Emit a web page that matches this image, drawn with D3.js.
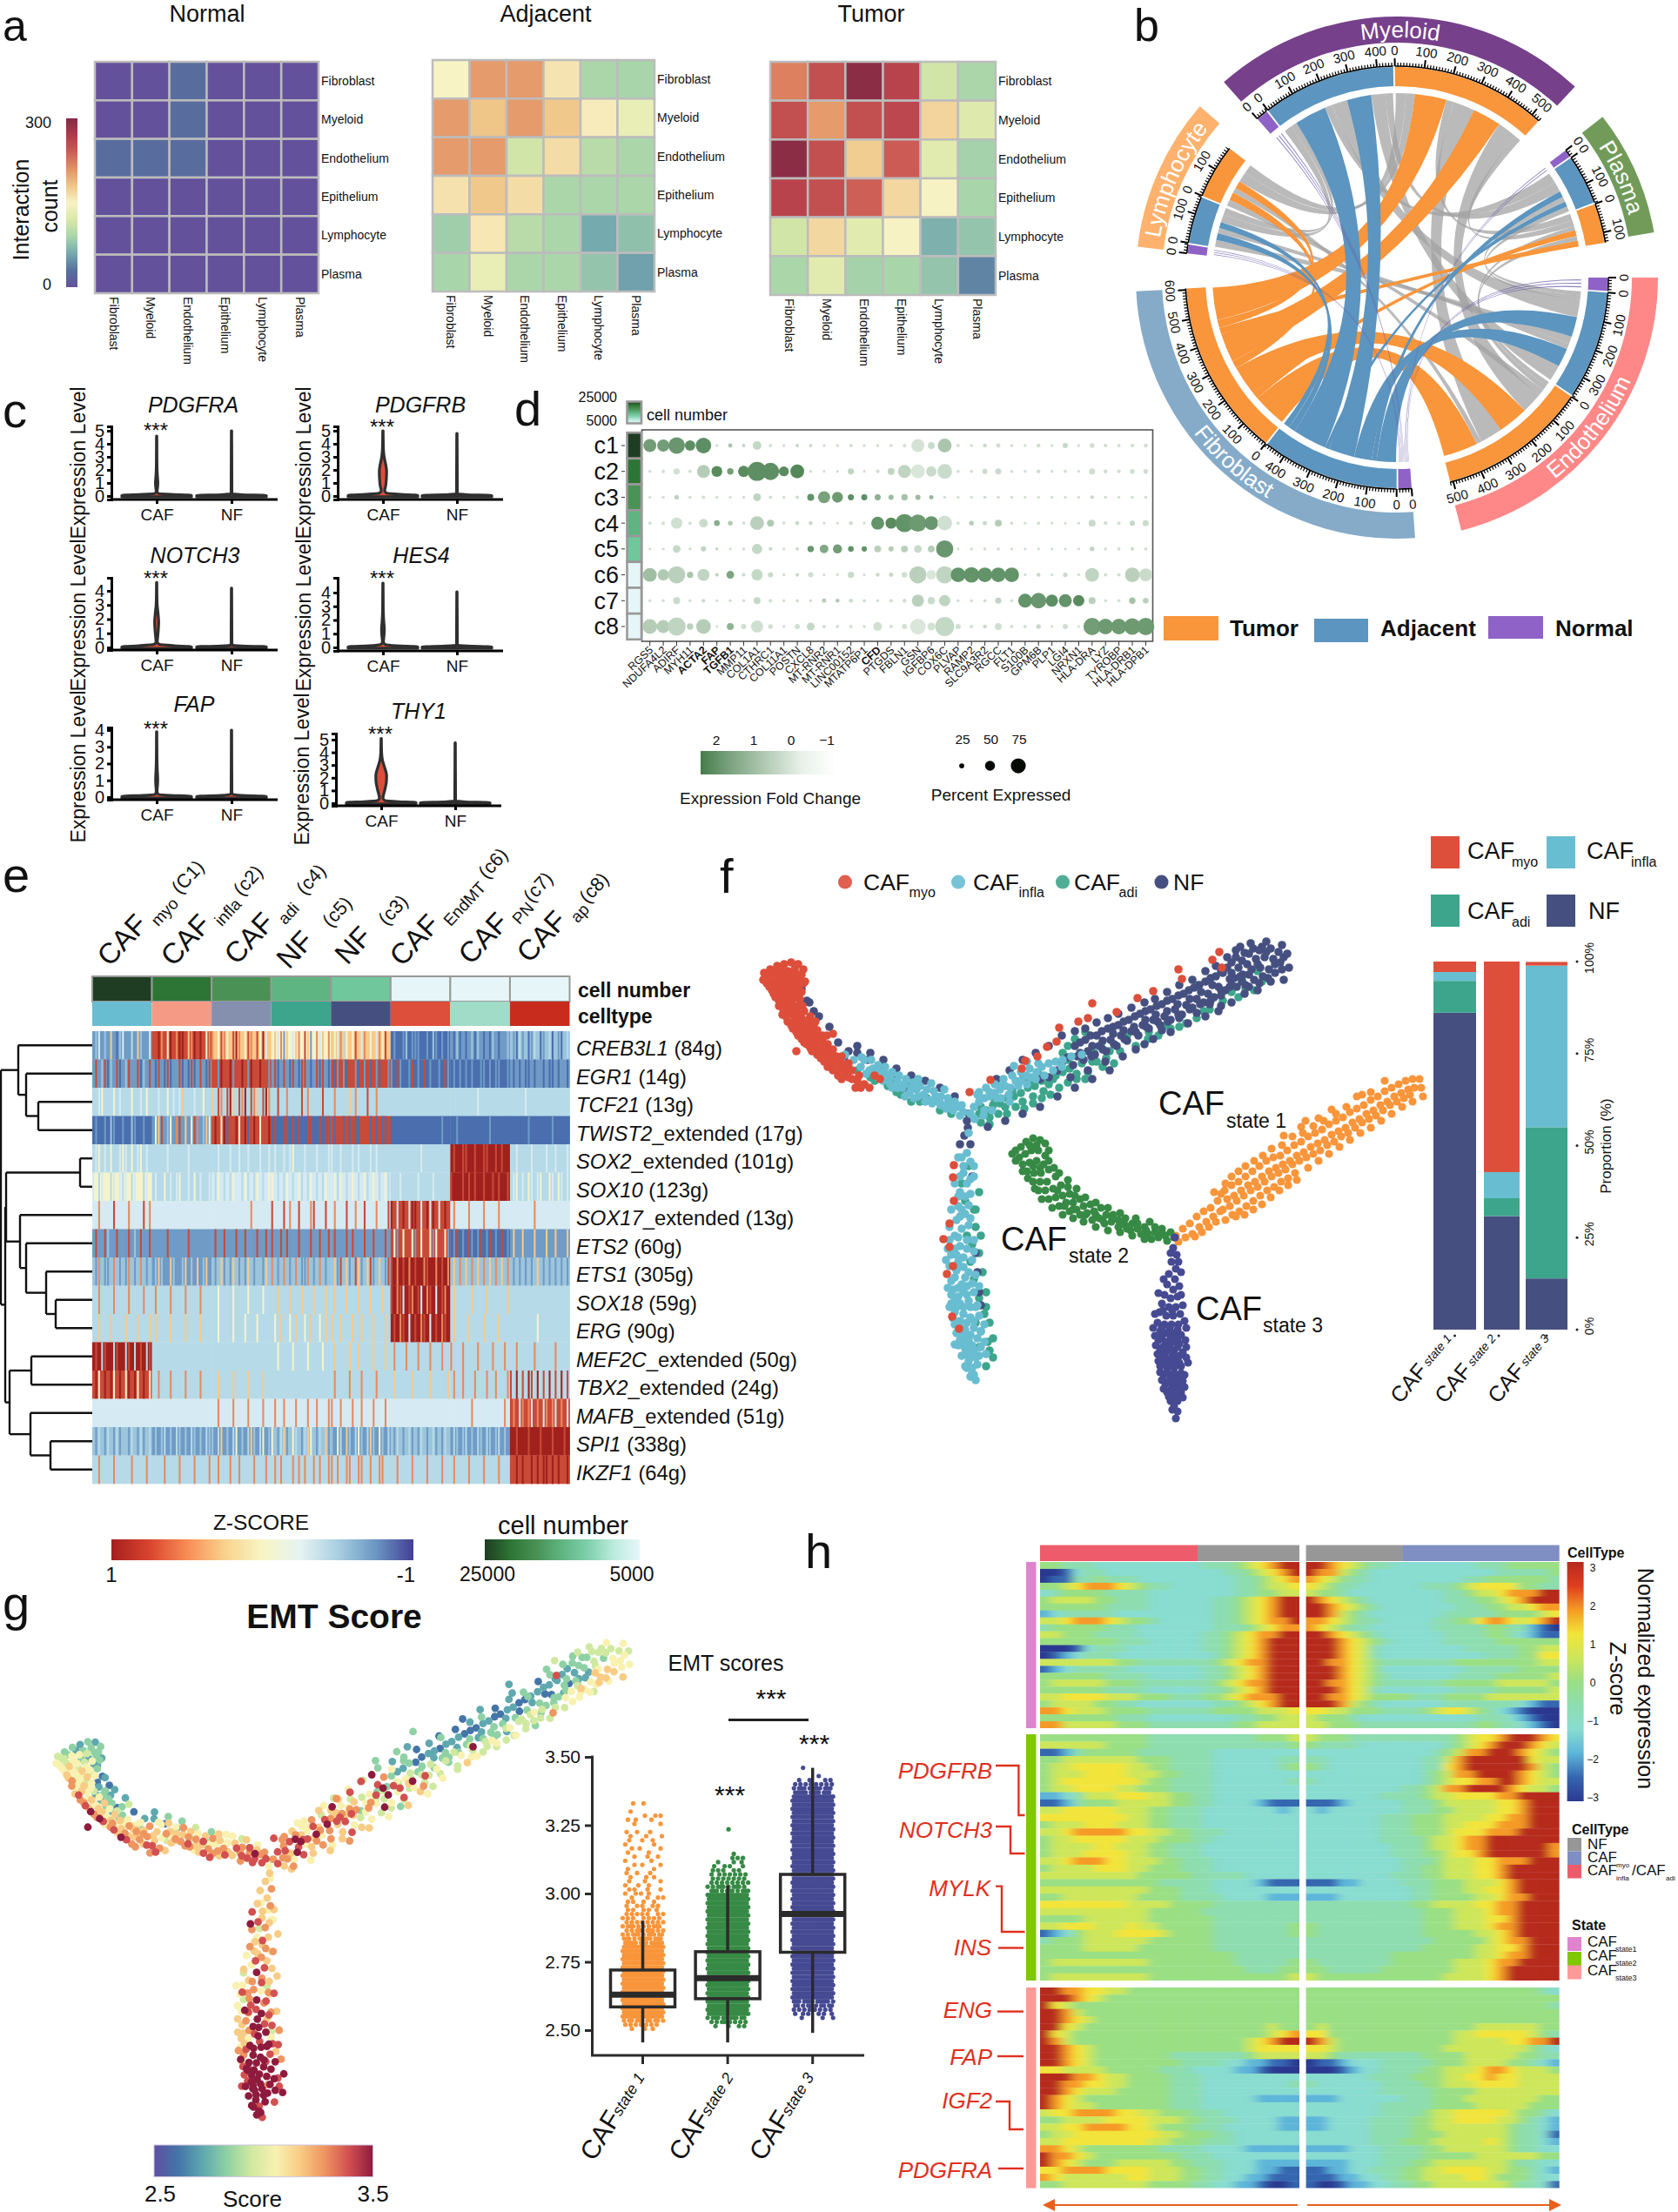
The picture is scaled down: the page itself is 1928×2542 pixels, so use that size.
<!DOCTYPE html>
<html><head><meta charset="utf-8">
<script src="https://cdn.jsdelivr.net/npm/d3@7"></script>
<style>html,body{margin:0;background:#fff}text{font-family:"Liberation Sans",Arial,sans-serif}</style>
</head><body><svg id="c" width="1928" height="2542" xmlns="http://www.w3.org/2000/svg"></svg>
<script>
// ---------- DATA ----------
const cellTypes=['Fibroblast','Myeloid','Endothelium','Epithelium','Lymphocyte','Plasma'];
const normalCounts=[[0,0,25,0,0,0],[0,0,25,0,0,0],[25,25,25,0,0,0],[0,0,0,0,0,0],[0,0,0,0,0,0],[0,0,0,0,0,0]];
const adjacentCounts=[[150,205,205,160,92,90],[205,180,205,178,155,135],[205,205,115,165,100,92],[162,178,165,92,92,92],[85,158,100,92,60,75],[90,135,92,92,78,55]];
const tumorCounts=[[220,250,295,262,115,92],[250,205,250,258,170,125],[295,250,175,240,128,88],[262,250,238,168,148,90],[115,168,128,148,65,78],[92,128,88,90,78,40]];

const chordGroups=[['Myeloid','Normal',40],['Myeloid','Adjacent',455],['Myeloid','Tumor',530],['Plasma','Normal',25],['Plasma','Adjacent',170],['Plasma','Tumor',135],['Endothelium','Normal',45],['Endothelium','Adjacent',370],['Endothelium','Tumor',510],['Fibroblast','Normal',45],['Fibroblast','Adjacent',470],['Fibroblast','Tumor',605],['Lymphocyte','Normal',30],['Lymphocyte','Adjacent',160],['Lymphocyte','Tumor',185]];
const chordLinks={tMF1:['Tumor',125],tMF2:['Tumor',112],tFE1:['Tumor',130],tFE2:['Tumor',115],tFL1:['Tumor',30],tFL2:['Tumor',30],tFP1:['Tumor',25],tFP2:['Tumor',25],
bMF1:['Adjacent',125],bMF2:['Adjacent',95],bFE1:['Adjacent',70],bFE2:['Adjacent',65],bFL1:['Adjacent',25],bFL2:['Adjacent',22],bFP1:['Adjacent',18],bFP2:['Adjacent',15],
gML1:['Other',40],gML2:['Other',35],gMP1:['Other',30],gMP2:['Other',25],gME1:['Other',85],gME2:['Other',78],gLE1:['Other',25],gLE2:['Other',20],gPE1:['Other',17],gPE2:['Other',20],
gAML1:['Other',30],gAML2:['Other',25],gAMP1:['Other',30],gAMP2:['Other',30],gAME1:['Other',60],gAME2:['Other',55],gAEL1:['Other',25],gAEL2:['Other',20],gAEP1:['Other',15],gAEP2:['Other',15],
nFM1:['Normal',1],nFM2:['Normal',1],nFM3:['Normal',1],nFE1:['Normal',1],nFE2:['Normal',1],nFE3:['Normal',1],nFL1:['Normal',1],nFL2:['Normal',1],nFL3:['Normal',1],nFP1:['Normal',1],nFP2:['Normal',1]};
const chordOrder={
'Myeloid|Normal':['nFM1','nFM2','nFM3'],
'Myeloid|Adjacent':['gAML1','gAML2','bMF1','gAMP1','gAME1','bMF2','gAME2','gAMP2'],
'Myeloid|Tumor':['gML1','gML2','tMF1','gMP1','gME1','tMF2','gME2','gMP2'],
'Plasma|Normal':['nFP1','nFP2'],
'Plasma|Adjacent':['gAMP1','gAMP2','bFP1','gAEP1','bFP2','gAEP2'],
'Plasma|Tumor':['gMP1','gMP2','gPE1','tFP1','gPE2','tFP2'],
'Endothelium|Normal':['nFE1','nFE2','nFE3'],
'Endothelium|Adjacent':['gAEP1','gAEP2','gAME1','bFE1','gAEL1','gAEL2','bFE2','gAME2'],
'Endothelium|Tumor':['gPE1','gPE2','gLE1','gME2','tFE2','gME1','gLE2','tFE1'],
'Fibroblast|Normal':['nFP1','nFE1','nFP2','nFE2','nFE3','nFM1','nFM2','nFM3','nFL1','nFL2','nFL3'],
'Fibroblast|Adjacent':['bFE1','bFP1','bFE2','bMF2','bFP2','bMF1','bFL1','bFL2'],
'Fibroblast|Tumor':['tFE1','tFP1','tFE2','tFL1','tMF2','tFP2','tFL2','tMF1'],
'Lymphocyte|Normal':['nFL1','nFL2','nFL3'],
'Lymphocyte|Adjacent':['gAEL1','bFL1','gAEL2','bFL2','gAML1','gAML2'],
'Lymphocyte|Tumor':['gLE1','tFL1','gLE2','tFL2','gML1','gML2']};

const violinGenes=['PDGFRA','PDGFRB','NOTCH3','HES4','FAP','THY1'];
const violinTicks=[5,5,4,4,4,5];
const cafDensity=[
[[-.06,1],[.06,1],[.12,.4],[.2,.05],[.35,.012],[.7,.028],[1,.035],[1.4,.025],[2,.012],[3,.007],[4.6,.005]],
[[-.06,1],[.05,1],[.12,.5],[.22,.1],[.4,.05],[.8,.08],[1.4,.1],[1.9,.105],[2.4,.08],[3,.035],[3.6,.014],[5,.005]],
[[-.06,1],[.05,1],[.12,.5],[.22,.07],[.4,.018],[1,.04],[1.8,.058],[2.4,.04],[3,.016],[3.8,.007],[4.6,.005]],
[[-.06,1],[.05,1],[.12,.4],[.22,.06],[.4,.015],[.9,.032],[1.3,.04],[1.9,.024],[2.8,.009],[4.7,.005]],
[[-.06,1],[.05,1],[.1,.4],[.18,.04],[.35,.012],[.8,.027],[1.1,.03],[1.6,.018],[2.5,.008],[3.9,.005]],
[[-.06,1],[.05,1],[.12,.5],[.22,.1],[.4,.05],[1,.1],[1.7,.15],[2.2,.155],[2.8,.1],[3.4,.035],[4,.012],[5.1,.005]]];
const nfDensity=[[[-.06,1],[.05,1],[.1,.3],[.18,.012],[5,.005]],[[-.06,1],[.05,1],[.1,.3],[.18,.012],[4.8,.005]],[[-.06,1],[.05,1],[.1,.3],[.18,.012],[4.2,.005]],[[-.06,1],[.05,1],[.1,.3],[.18,.012],[4.05,.005]],[[-.06,1],[.05,1],[.1,.3],[.18,.012],[4,.005]],[[-.06,1],[.05,1],[.1,.3],[.18,.012],[4.75,.005]]];

const clusterNames=['c1','c2','c3','c4','c5','c6','c7','c8'];
const clusterCellColors=['#1f3d22','#2d7535','#4a9155','#5fb582','#6fc79b','#e6f6f8','#e6f6f8','#e6f6f8'];
const dotGenes=['RGS5','NDUFA4L2','ADIRF','MYH11','ACTA2','FAP','TGFB1','MMP11','COL1A1','CTHRC1','COL11A1','POSTN','CXCL8','MT-RNR2','MT-RNR1','LINC00152','MTATP6P1','CFD','PTGDS','FBLN1','GSN','IGFBP6','COX6C','PLVAP','RAMP2','SLC9A3R2','RGCC','FLT1','S100B','GPM6B','PLP1','LGI4','NRXN1','HLA-DRA','LYZ','TYROBP','HLA-DRB1','HLA-DPB1'];
const dotBold=['ACTA2','FAP','TGFB1','CFD'];
const dotPct=[
[60,55,80,45,75,2,10,5,35,4,2,5,4,3,3,5,3,3,3,6,60,25,65,4,3,8,10,3,2,8,2,15,2,12,6,4,6,8],
[3,5,20,4,60,48,22,50,95,85,42,65,3,1,1,20,1,6,25,60,65,45,70,3,3,15,20,3,2,8,2,4,1,20,8,6,12,12],
[2,2,12,2,5,2,1,2,30,4,2,5,25,55,48,20,20,20,15,22,15,10,1,2,2,3,3,2,1,2,1,1,1,6,3,2,3,3],
[3,4,50,4,35,18,12,3,65,25,3,8,8,2,1,6,1,60,50,90,85,65,70,3,12,10,25,3,1,4,1,1,1,25,6,4,15,20],
[2,2,30,3,15,3,1,3,45,6,2,5,22,35,38,18,16,25,15,25,30,25,85,2,3,3,4,1,1,2,1,1,2,12,3,4,5,4],
[65,50,85,22,55,6,30,5,50,15,2,6,15,1,2,22,1,8,10,18,85,40,85,70,75,70,70,70,2,8,1,12,2,65,5,5,70,60],
[2,3,25,2,6,1,3,2,25,5,2,4,3,10,8,8,4,2,5,7,55,28,50,2,3,4,20,3,65,75,55,60,50,25,3,3,22,18],
[70,60,90,22,70,1,25,15,55,12,2,15,30,6,4,4,3,35,5,15,75,30,95,15,4,8,25,4,4,12,1,15,1,85,75,75,80,85]];
const dotFold=[
[1.3,1.3,1.5,1.7,1.7,-.5,.2,-.3,-.3,-.5,-.5,-.3,-.4,-.5,-.5,-.5,-.5,-.5,-.5,-.5,-.6,-.4,.2,-.5,-.5,-.4,-.5,-.5,-.5,-.5,-.5,-.3,-.5,-.5,-.5,-.5,-.5,-.5],
[-.5,-.5,-.5,-.5,0,1.8,1.3,1.8,1.7,1.7,1.8,1.9,-.5,-.5,-.5,-.2,-.5,-.5,-.2,-.2,-.7,-.4,-.4,-.5,-.5,-.4,-.4,-.5,-.5,-.5,-.5,-.5,-.5,-.5,-.5,-.5,-.5,-.5],
[-.5,-.5,-.2,-.5,-.5,-.5,-.5,-.5,-.2,-.5,-.5,-.5,1.6,1.2,1.4,1.7,1.7,.8,.5,.3,.5,.6,-.5,-.5,-.5,-.5,-.5,-.5,-.5,-.5,-.5,-.5,-.5,-.3,-.5,-.5,-.5,-.5],
[-.5,-.5,-.5,-.5,-.4,.9,.1,-.5,-.1,.1,-.5,-.4,-.4,-.5,-.5,-.4,-.5,1.6,1.8,1.6,1.4,1.5,-.5,-.5,0,-.4,0,-.5,-.5,-.5,-.5,-.5,-.5,-.4,-.5,-.5,-.3,-.4],
[-.5,-.5,-.3,-.5,-.2,-.3,-.5,-.5,-.3,-.3,-.5,-.4,1.5,1,1.3,1.6,1.6,-.1,0,-.1,-.4,0,1.5,-.5,-.5,-.5,-.5,-.5,-.5,-.5,-.5,-.5,-.5,-.2,-.5,-.5,-.4,-.5],
[.4,.1,-.1,.2,-.2,-.2,1.1,-.4,-.3,-.4,-.5,-.4,-.5,-.5,-.5,-.4,-.5,-.4,-.3,-.5,-.1,-.7,-.2,1.6,1.6,1.6,1.6,1.6,-.5,-.4,-.5,-.4,-.5,-.2,-.5,-.5,-.1,-.4],
[-.5,-.5,-.4,-.5,-.4,-.5,-.5,-.5,-.3,-.5,-.5,-.5,-.5,0,.1,-.4,-.5,-.5,-.5,-.5,-.1,-.4,-.2,-.5,-.5,-.5,-.2,-.5,1.6,1.5,1.7,1.6,1.8,-.1,-.5,-.5,.3,-.1],
[0,0,-.2,-.1,0,-.5,.7,-.5,-.5,-.5,-.5,-.5,-.3,-.5,-.5,-.5,-.5,-.5,-.5,-.6,-.7,-.6,-.3,-.5,-.5,-.4,-.5,-.5,-.5,-.4,-.5,-.5,-.5,1.3,1.4,1.4,1.4,1.4]];

const tfGenes=['CREB3L1','EGR1','TCF21','TWIST2','SOX2','SOX10','SOX17','ETS2','ETS1','SOX18','ERG','MEF2C','TBX2','MAFB','SPI1','IKZF1'];
const tfSuffix=[' (84g)',' (14g)',' (13g)','_extended (17g)','_extended (101g)',' (123g)','_extended (13g)',' (60g)',' (305g)',' (59g)',' (90g)','_extended (50g)','_extended (24g)','_extended (51g)',' (338g)',' (64g)'];
const tfActivity=[
["12412161024113162114","88978598799867989857","76587568976587685946","56471654675861574657","65473565864765647586","01001201110010210101","10201012021010210112","21031201320123021023"],
["18128021801281180218","10810801180108018108","88198891889819889881","18018108108810180810","80181088108180810881","10810018010801001081","01010101001101011001","10101001011010010110"],
[ "33453335343335334353","33433534346333433533","63873896387938763897","33833733338373333833","37333363733383373333","33333333333333333333","33333333343333333333","33333433333333333333"],
["01001021001002100100","15681251781615871265","89859088958908985889","08008808080088008088","80880808008880808008","00000000000000000100","00100000000001000000","00000010000000100000"],
["34534353345435345343","33333433333343333333","33433343343343334334","34334345333433343334","43343334343334343333","33333333334333333333","98998899899889989899","33433334333343343334"],
["45345534543453455345","34335343453343534334","43543435443534354345","54343543453435434354","45354345434534543453","33343333343333433333","89998989899899898998","34534354345335435434"],
["44744448444474444847","44444444444444444444","44444444444447444444","84448474484447844484","47444844744844474448","98489849984894984898","47444474444744447444","44444444744444444444"],
["18118211811181218118","11111811111181111111","18118111811811181181","81181811181118118118","18111818111811811181","85185885185885158851","01801081018018010801","16116111611161161116"],
["21721127212172127212","12621162112612161261","21261216212162122162","72127212721172127212","26182612861268126218","89798979899789979897","26272627262726272627","21212121262121212121"],
["33733337333373333733","37333373333733337333","33533335333353333533","33633363336333633363","36333633363336333633","89784987984978949879","36333336333363333336","33333333333333333333"],
["33633363333633363336","36333363333633336333","33533335333533353333","35363353633536335363","63363336336333633363","98978949897894989789","36333363333633336333","33333333353333333333"],
["98938993899389398938","33333333333333333333","33333333333333333333","33533335333353333533","36333363363333633363","37333733373337333733","73337333373333733373","33733333733333373333"],
["89589895898598958985","33733373333733337333","33633336333363333633","33333333333333333333","37333373337333373333","36333336333336333336","37337333733373373337","83938398393839383938"],
["44444444444444444444","44444444444444444444","44744447444474444744","47447444744474474447","74474447447444744474","44444444444444444444","44444447444444444474","87847874878478748784"],
["21321321312213213123","12123121321213212132","21361213512136213512","52136125321365213261","21531621352136215213","21321231213212312132","13212312132132123121","99899989998999899989"],
["33733337333337333373","33337333373333733337","33733373373333733373","37373337373733737337","73733773377337337733","33733337333373333733","37333373333733337333","88989889898998989889"]];

const trajMyo=[[8,32,4],[14,28,3],[22,24,2],[30,26,3],[38,24,3],[6,40,5],[13,38,4],[20,36,5],[28,35,3],[36,36,2],[44,34,3],[12,48,5],[19,46,5],[26,46,4],[34,46,5],[42,44,2],[16,56,6],[24,56,5],[31,55,5],[39,54,4],[47,66,1],[20,66,7],[27,65,5],[35,64,4],[24,76,6],[31,74,6],[40,72,5],[30,84,7],[38,82,5],[46,80,2],[36,92,8],[44,90,5],[52,88,2],[42,100,9],[50,98,6],[58,96,3],[49,108,7],[57,106,5],[65,104,2],[56,114,8],[64,114,6],[72,112,3],[64,122,7],[72,122,5],[80,120,5],[72,130,6],[80,132,7],[88,128,6],[82,140,8],[90,138,6],[86,124,5],[96,142,7],[104,150,8],[60,88,3],[70,100,1],[56,78,3],[92,150,7],[108,160,7],[239,165,8],[263,151,5],[299,138,9],[303,129,7],[317,124,8],[328,113,8],[339,107,9],[342,91,3],[364,84,3],[375,80,2],[380,63,3],[408,73,1],[432,57,1],[450,49,2],[479,24,2],[483,35,2],[518,13,3],[526,4,4],[529,22,8],[221,249,8],[220,263,9],[221,290,7],[216,316,6],[209,334,5],[216,343,8],[220,365,9],[213,374,6],[219,423,9],[227,437,9],
[3,28,4],[10,24,3],[18,20,3],[26,18,2],[34,16,3],[42,18,2],[48,24,3],[46,30,3],[50,38,2],[2,36,5],[10,32,4],[18,30,5],[26,30,5],[34,30,4],[42,30,3],[9,44,5],[16,42,6],[24,40,5],[32,40,4],[40,40,5],[48,40,3],[14,52,6],[22,50,5],[30,50,6],[38,50,5],[46,50,3],[20,60,7],[28,60,5],[36,58,6],[44,58,5],[25,70,5],[33,68,6],[41,66,5],[49,72,2],[28,78,8],[36,76,5],[44,76,4],[54,82,3],[34,88,7],[42,86,6],[50,84,5],[62,84,2],[40,96,6],[48,94,5],[56,92,6],[64,94,3],[46,104,7],[54,102,6],[62,100,5],[70,104,4],[52,110,9],[60,110,5],[68,108,6],[76,110,3],[58,118,5],[66,118,7],[74,116,6],[82,116,5],[68,126,8],[76,126,6],[84,124,7],[92,124,5],[76,136,9],[84,136,6],[92,132,7],[100,132,6],[88,146,7],[96,136,6],[104,140,7],[112,146,6],[100,148,6],[110,152,8],[118,156,7],[124,160,6],[114,160,8],[130,146,5],[136,150,6],[40,118,9],[75,100,3],[82,98,4]];
const trajNF=[[360,112,3],[363,124,8],[358,134,9],[372,105,2],[375,118,5],[370,128,8],[385,100,1],[388,112,3],[383,122,9],[398,92,2],[401,105,4],[396,118,8],[410,88,1],[413,100,3],[408,112,5],[422,82,2],[425,95,4],[420,106,3],[435,75,1],[438,88,3],[433,100,5],[447,70,1],[450,82,2],[445,92,9],[460,64,2],[463,78,3],[458,88,4],[472,58,1],[475,70,3],[470,82,3],[485,52,2],[488,65,3],[483,76,5],[497,45,1],[500,58,3],[495,68,4],[510,38,2],[513,52,3],[508,62,5],[522,32,2],[525,44,1],[520,56,3],[528,66,7],[535,22,2],[538,35,3],[533,48,3],[545,10,3],[548,22,2],[543,34,1],[546,44,5],[555,5,3],[558,18,3],[553,30,2],[556,42,6],[565,0,4],[568,12,4],[563,24,2],[566,36,5],[575,-2,4],[578,10,3],[573,22,5],[576,32,6],[585,0,4],[588,12,5],[583,24,6],[594,4,4],[596,16,5],[590,28,6],[540,16,2],[530,28,2],[518,42,1],[505,50,2],[492,58,1],[478,64,2],[466,72,3],[453,76,2],[441,82,3],[428,90,2],[416,94,3],[404,98,2],[392,106,3],[380,112,4],[352,125,9],[345,132,8],[340,140,7],[330,148,3],[320,150,8],[55,62,2],[60,72,1],[95,125,3],[110,120,2],[122,128,1],[135,135,2],[150,150,4],[165,160,4],[185,170,6],[205,178,5],[238,190,4],[236,198,5],[237,206,6],[233,215,6],[240,225,7],[242,262,5],[246,350,6],[248,372,7],[250,395,4],[252,410,8],[228,225,6],
[360,95,2],[372,92,3],[385,85,1],[398,80,2],[410,75,3],[425,68,1],[440,62,2],[452,58,3],[466,50,1],[480,42,2],[495,36,3],[510,26,1],[522,20,3],[535,10,3],[550,-2,4],[562,-6,4],[580,-8,5],[598,-4,5],[604,6,4],[606,22,5],[600,36,6],[585,38,5],[570,48,4],[555,52,5],[540,62,4],[525,72,4],[510,78,3],[490,86,5],[470,96,4],[450,104,5],[430,116,4],[415,124,5],[395,130,7],[375,140,8],[355,148,9],[538,44,2],[550,32,3],[560,6,3],[572,2,4],[545,2,3],[528,54,3],[515,64,3],[500,74,4],[480,80,2],[460,94,4],[440,110,6],[140,128,3],[155,138,4],[172,146,3],[188,152,5],[205,160,4],[222,170,5],[110,112,2],[125,120,3],[100,118,2],[88,108,1],[78,90,2],[66,78,2],[52,60,1],[46,46,2],[270,150,5],[285,140,6],[300,128,4],[315,120,5],[330,112,4],[345,100,3],[260,205,6],[280,198,5],[300,190,6],[320,182,7],[340,170,6],[360,160,5],[380,150,6],[400,140,5],
[366,108,2],[378,100,3],[391,95,1],[404,90,2],[416,84,2],[429,78,2],[441,72,1],[454,66,2],[466,60,1],[479,54,2],[491,48,1],[503,42,2],[516,34,2],[528,26,2],[540,28,3],[552,14,3],[560,30,2],[570,18,4],[580,4,4],[590,18,5],[600,10,5],[598,24,5],[366,120,5],[379,124,6],[392,116,4],[405,110,3],[417,104,4],[430,96,3],[442,90,4],[455,84,3],[467,84,3],[479,76,4],[492,70,4],[504,64,4],[516,60,4],[528,48,3],[540,42,3],[552,38,4],[560,44,5],[572,40,5],[582,34,6]];
const trajAdi=[[250,190,7],[258,186,6],[266,180,8],[274,178,5],[282,172,6],[290,170,5],[298,166,7],[306,160,6],[314,158,8],[322,152,6],[330,156,4],[338,146,7],[346,142,5],[354,138,4],[362,150,4],[346,120,8],[352,112,7],[360,104,5],[372,96,3],[385,130,5],[396,126,4],[375,142,4],[390,112,3],[412,118,4],[430,112,4],[444,104,5],[456,100,4],[470,92,5],[488,86,4],[508,72,4],[530,60,4],[548,56,5],[566,48,5],[570,26,6],[552,36,3],[500,42,3],[300,176,7],[280,182,6],[262,194,5],[312,170,6],[324,164,5],[110,140,6],[125,148,4],[140,152,7],[155,165,5],[168,158,3],[182,176,6],[244,300,5],[246,320,6],[242,340,4],[240,360,7],[244,380,6],[250,402,5],[256,420,6],[252,440,5],[262,462,8],[258,480,8],[250,458,7],[246,430,8],[236,330,7],[234,290,6],[230,270,4],[238,250,5],
[130,152,6],[145,158,7],[160,168,6],[172,176,8],[190,172,6],[205,186,7],[218,190,8],[252,200,6],[262,202,7],[272,190,8],[282,190,6],[292,182,7],[302,184,5],[312,178,6],[322,172,8],[332,168,6],[342,160,5],[352,154,4],[362,144,5],[372,150,3],[382,120,4],[392,136,6],[405,132,4],[252,182,8],[268,174,9],[288,164,7],[308,152,8],[252,330,6],[250,350,8],[254,372,6],[258,395,7],[258,412,8],[262,430,7],[266,448,9],[266,470,9],[260,452,8],[246,300,7],[250,280,6],
[300,150,6],[318,144,7],[335,150,5],[352,128,4],[368,132,5],[380,130,4],[400,118,4],[420,100,3],[445,96,4],[465,88,5],[480,90,4],[500,80,4],[515,70,4],[540,50,5],[556,46,5],[575,38,6]];
const trajInfla=[[92,130,6],[100,136,7],[106,128,7],[114,136,6],[120,144,5],[128,138,6],[134,148,7],[142,144,6],[148,156,8],[156,152,7],[162,160,6],[170,166,7],[178,162,5],[186,168,7],[192,174,6],[200,170,8],[206,180,8],[214,178,7],[220,186,8],[226,182,7],[232,188,8],[96,122,5],[118,128,5],[244,182,8],[250,176,7],[256,172,8],[262,170,9],[268,166,6],[274,162,5],[280,158,8],[286,160,6],[292,152,8],[298,152,7],[304,146,6],[310,148,7],[316,142,5],[322,136,6],[330,132,4],[338,130,5],[346,128,3],[356,124,3],[368,122,4],[240,190,7],[256,186,6],[270,172,8],[284,168,9],[238,212,5],[236,235,6],[230,240,5],[240,245,7],[232,258,6],[228,262,8],[236,270,7],[228,280,5],[234,285,8],[226,296,6],[234,305,7],[224,312,5],[230,322,9],[238,318,8],[222,330,6],[228,342,7],[236,345,5],[218,352,4],[226,360,8],[232,366,8],[238,372,9],[222,378,7],[230,386,9],[220,392,6],[226,400,5],[236,398,9],[224,412,8],[232,412,9],[240,412,9],[220,425,6],[228,428,9],[236,430,9],[244,428,9],[224,442,8],[232,444,9],[240,444,9],[226,456,9],[234,456,9],[242,456,9],[230,468,9],[238,468,9],[246,470,9],[234,480,9],[242,482,8],[240,492,9],[246,496,8],[230,300,6],[238,295,7],[222,345,7],[224,370,5],[232,395,8],[218,408,5],[228,435,8],[236,462,9],
[126,128,6],[134,134,5],[142,136,7],[150,142,6],[158,146,5],[166,150,6],[174,154,7],[182,158,6],[190,162,5],[198,164,6],[206,170,7],[214,172,8],[222,176,6],[230,180,7],[124,140,7],[132,142,5],[140,152,6],[148,148,7],[156,160,6],[164,156,8],[172,160,5],[180,170,7],[188,176,8],[196,178,6],[204,176,7],[212,184,8],[220,180,9],[228,192,8],[150,160,7],[165,170,8],[175,172,7],[248,168,7],[258,160,6],[268,156,5],[278,150,7],[288,146,4],[298,142,6],[308,138,5],[318,132,4],[245,196,8],[255,192,7],[265,186,9],[275,172,8],[285,176,7],[295,158,9],[305,156,8],[315,150,6],[325,146,7],[335,140,5],[345,136,4],[226,240,6],[244,262,5],[222,270,7],[240,282,6],[218,300,5],[228,308,8],[240,310,6],[216,320,4],[226,332,7],[236,335,8],[244,335,6],[214,345,5],[224,352,7],[232,355,9],[242,358,8],[216,365,5],[224,368,8],[234,378,9],[242,385,8],[218,382,6],[226,390,7],[236,388,9],[244,395,9],[218,398,6],[228,408,9],[238,405,8],[248,410,9],[222,418,7],[232,420,9],[240,424,9],[250,422,8],[226,435,9],[234,438,9],[244,436,9],[252,440,9],[228,450,8],[238,450,9],[248,448,9],[234,460,9],[244,462,9],[252,458,9],[238,474,9],[248,478,9],[242,488,9],[250,468,9],[236,482,9],[256,452,9],
[216,335,5],[244,348,7],[212,358,5],[246,375,8],[214,390,6],[250,388,8],[216,412,7],[246,412,9],[222,405,6],[222,432,8],[256,432,9],[232,452,9],[222,455,8],[258,466,9],[244,490,9],[232,250,6],[244,250,6],[226,285,6],[240,265,6],[180,150,6],[195,155,5],[210,162,6],[115,125,5],[135,142,6],[250,165,7],[262,165,7],[275,158,5],[290,135,5],[305,130,6]];
const stateOne=[[476,330],[479,337],[484,322],[487,332],[492,316],[495,328],[500,308],[503,320],[498,331],[508,302],[511,314],[506,326],[516,298],[519,308],[514,320],[524,290],[527,302],[522,314],[532,278],[535,288],[530,300],[533,312],[540,272],[543,284],[538,296],[541,306],[548,268],[551,278],[546,290],[549,302],[556,262],[559,272],[554,284],[557,296],[564,256],[567,268],[562,278],[565,290],[572,250],[575,262],[570,274],[573,284],[580,244],[583,256],[578,268],[581,278],[588,240],[591,252],[586,262],[589,274],[596,238],[599,248],[594,258],[597,268],[604,232],[607,244],[602,254],[605,264],[612,226],[615,238],[610,248],[613,258],[620,222],[623,234],[618,244],[628,216],[631,228],[626,240],[636,212],[639,224],[634,236],[644,208],[647,220],[642,232],[652,202],[655,214],[650,226],[660,198],[663,210],[658,222],[668,194],[671,206],[666,216],[676,188],[679,200],[674,212],[684,184],[687,196],[682,206],[692,180],[695,190],[690,200],[700,174],[703,186],[698,196],[708,170],[711,180],[706,192],[716,164],[719,176],[714,186],[724,160],[727,170],[722,180],[732,156],[735,166],[730,176],[740,152],[743,162],[738,172],[748,150],[750,160],[745,168],[600,215],[620,205],[655,185],[684,170],
[540,262],[548,256],[556,250],[566,244],[576,238],[586,230],[598,226],[610,216],[622,212],[634,204],[646,198],[660,190],[672,182],[545,308],[555,306],[565,300],[575,294],[585,286],[595,278],[605,272],[615,266],[628,252],[640,244],[652,236],[664,228],[676,220],[688,212],[700,206],[712,198],[724,190],[736,182],[748,176],[758,160],[760,170],[756,150],[700,165],[716,152],[690,168],[640,195],[625,198],[533,270],[528,282],[520,280]];
const stateTwo=[[292,232],[298,228],[304,222],[312,218],[320,220],[326,224],[296,240],[303,236],[310,232],[318,232],[326,238],[300,248],[308,246],[316,244],[324,248],[305,256],[313,258],[321,258],[330,254],[312,268],[320,268],[328,268],[338,262],[318,278],[326,278],[335,276],[344,272],[352,266],[330,288],[338,286],[346,284],[354,282],[362,276],[342,296],[350,292],[358,292],[366,288],[354,302],[362,300],[370,296],[378,294],[366,306],[374,304],[382,302],[390,298],[380,312],[388,310],[396,306],[404,306],[394,316],[402,314],[410,312],[418,310],[410,320],[418,318],[426,316],[424,324],[432,322],[440,320],[436,328],[444,328],[452,326],[448,334],[456,332],[464,330],[470,326],[466,336],[474,332],
[288,236],[292,244],[300,256],[306,264],[314,276],[322,288],[334,298],[346,306],[358,310],[370,314],[384,320],[398,324],[412,326],[426,330],[440,334],[330,244],[336,252],[342,258],[352,274],[360,284],[372,286],[384,292],[398,298],[412,304],[430,310],[446,314],[460,322],[330,232],[316,226],[308,226],
[340,278],[348,296],[358,300],[372,306],[384,306],[392,312],[402,308],[414,316],[420,322],[432,316],[442,324],[452,320],[460,326],[312,250],[320,252]];
const stateThree=[[475,332],[473,344],[477,352],[471,360],[476,368],[468,374],[475,380],[466,386],[473,392],[480,388],[463,398],[470,402],[478,400],[460,408],[468,412],[476,412],[457,418],[465,422],[473,422],[481,420],[455,430],[463,432],[471,432],[479,432],[458,440],[466,442],[474,442],[482,444],[456,450],[464,452],[472,452],[480,454],[458,460],[466,462],[474,462],[484,464],[460,470],[468,472],[476,472],[458,480],[466,482],[474,482],[482,480],[462,490],[470,492],[478,492],[486,490],[490,476],[464,500],[472,502],[480,502],[466,510],[474,512],[482,510],[470,520],[478,520],[472,530],[476,540],
[470,350],[479,360],[482,372],[462,380],[482,398],[456,396],[461,416],[472,416],[484,410],[452,420],[486,428],[450,436],[460,436],[469,438],[478,438],[488,436],[452,445],[460,446],[470,447],[478,448],[487,450],[453,456],[461,458],[469,458],[478,458],[488,458],[455,466],[463,466],[472,467],[480,468],[456,474],[464,477],[472,478],[480,476],[488,470],[458,487],[466,487],[474,488],[482,488],[460,496],[468,497],[476,497],[484,497],[462,506],[470,507],[478,507],[486,504],[468,515],[476,516],[484,516],[474,526],[478,532]];

const stateLabels=['state 1','state 2','state 3'];
const propMyo=[2.85,57.2,1];
const propInfla=[2.4,7.1,43.9];
const propAdi=[8.65,4.85,41.1];
const propNF=[86.1,30.85,13.9];

const boxQ1=[2.585,2.615,2.785],boxMedian=[2.63,2.69,2.925],boxQ3=[2.72,2.787,3.07],boxLow=[2.455,2.455,2.49],boxHigh=[2.9,3.03,3.46];
const stripTop=[3.33,3.235,3.46];
const stripOne=[["....#...#.......",1],["................",1],["...#............",1],["........#...#.#.",1],["..#..#.....#....",1],["....#.........#.",1],["................",1],[".#...#....#.....",1],["...#.....#.....#",1],["..#....#...#....",1],[".#..........#...",1],["...#..#.......#.",1],["..#.......#.....",1],["....#....#...#..",1],[".#.........#....",1],["....#..#......#.",1],["..#.........#...",1],[".#...#....#.....",1],["...#.....#..#...",1],["..#.....#.....#.",1],[".#....#...#.....",1],["..#.#....#....#.",1],[".#...#.#..#.....",1],["...#.....#...#.#",1],["..#.#...#...#...",1],[".#...#.#...#.#..",1],["..#.#...#.#..#..",1],[".#.#.#.#.#...#.#",1],["#.#.#...#.#.#.#.",1],[".#.#.#.#.#.#.#.#",1],["#.###.#.#.#.###.",1],[".#.#.###.###.#.#",1],["#.#.###.#.###.##",1],["###.#.#####.###.",1],[".#####.###.#####",1],["################",18],["#.##.###.##.##.#",1],[".#.#.#.#.#.#.#..",1],["...#....#..#....",1]];
const stripTwo=[["........#.......",1],["................",5],["..........#.....",1],[".........#.#.#..",1],["....#.....#..#..",1],["..#...#.#....#..",1],["..#.#.#...#.#...",1],[".#..#.#.#.#.#.#.",1],["..#.#.#.#.#.#.#.",1],[".#.#.#.#.#.#.#.#",1],["#.#.###.#.###.#.",1],[".###.#.###.#.###",1],["################",30],["#.###.##.###.##.",1],[".#.#.##.#.#.#.#.",1],["...#....#...#.#.",1]];
const stripThree=[["....#...........",1],["................",1],["..........#.....",1],["..#...#.....#.#.",1],[".#.#.#.#.#.#.#.#",1],["#.###.#.###.###.",1],[".#####.####.###.",1],["################",50],["###.####.#####.#",1],[".##.#.##.#.##.##",1],["#.#.#.#.#.#.#.#.",1],[".#..#.#...#.#..#",1],["...#.......#...#",1]];

const hState1=[
"554443333333333444567899 998765443333333344455555",
"001344333333333334456789 988654333333333333444445",
"011445444333333333445678 876544333333333445555554",
"556788876544333333445667 765443333334445677775544",
"345555444433333333445566 655433333333344566788899",
"566665544433333344567899 987654333333344455678999",
"555555444433333344567899 998765433333334445566788",
"234444433333333344567899 998654333333344444555567",
"667888765543333344567889 887654433333445578876789",
"455555444333333344456788 876544333333444445544210",
"665554444333333445678899 998765433333344445543211",
"555555544433333445678999 999876543333344444555555",
"000134443333333445678999 999876433333333444445566",
"012344433333333345678999 999876433333333334445577",
"666666655444444456788999 998876544444445555555566",
"123444443333333445678999 999876533333333444445555",
"555555444433333445678999 999876543333334444555556",
"566666555444444456788999 998876544444455555666665",
"555555444433333445678999 999876433333334444555556",
"667777666555444556788899 998876555544455556666666",
"566665544333333344567899 999865433333344444443211",
"887666555544444455556667 776655544445677654321000",
"555555544433333333445566 655543333333333344432100",
"886666655544444444556666 665554444444444455443210"];
const hState2=[
"555555555544444444445556 655544444444445677899987",
"666666555544444444444445 544443333333345678999876",
"112455555444444433333333 333333333333456889998765",
"556666666555444433333344 443333333334468999999766",
"566777776655444433333345 543333333334478999999865",
"566677776665544433333333 333333333334568899998765",
"567777777655444433333334 433333333334567788998766",
"566777766555444433333333 333333333445688999987665",
"223466677766554433333333 333333344445667777889999",
"112455566666554433332111 111233333444566666778999",
"667777766655444333333323 323333333444556666778999",
"777777776655444333333333 333333344455566667788999",
"566677766655444333333333 333333344455566777888999",
"667888887766554443333333 333333344455567778889999",
"566777776665554433333333 333333344445667889999999",
"566667766655444333333333 333333334445667889999998",
"566677776655444333333333 333333334445567789999998",
"667888776665544433333333 333333333444566677888999",
"566667776655544433333333 333333333445566677899999",
"666666666555554444433333 333333334445566677899999",
"555555555554444433332111 111223333444555666789999",
"666666666655544433333333 333333333344555667789999",
"556666666555544443333222 222333333344555566788999",
"777777776666555544444444 444444444455666677889999",
"666666666655555444444444 444444444445556667889999",
"555566666655555544444444 444444444445556667789999",
"667776667665555544444445 544444444445556667889999",
"123566677776555544444445 544444444445555566789999",
"455566666655555544444444 444444444444555556788999",
"555566666555555544444444 444444444445555566778999",
"555555555555555555444444 444444445555555566788999",
"566666666655555555444445 544444445555556667889999",
"555555555555555555544455 554444455555556667899999",
"566666666655555555555556 655555555555566667899999"];
const hState3=[
"998877665555555555555555 555555555555555555555543",
"999876555555555555555555 555555555555555555555555",
"976555555555555555555555 555555555555555555555554",
"998655555555555555555555 555555555555555555555555",
"998765555555555555555555 555555555555555555555555",
"997655555555555555555655 565555555555555566666655",
"976555555555555555555678 775555555555556677777654",
"986555555555555555567899 986555555555556666677889",
"998765555555555555567777 776555555555566666666543",
"998765555555444444456666 665444444445555666665544",
"998765555555544443322110 011233344444555666655432",
"776666555554443333221000 000123344445566678876665",
"999887665555444333333333 333333444455566778776666",
"998877665555444333333334 433333344445566677776666",
"998766655555444333333333 333333344444555566666666",
"987655555555444333332222 222333333444555666666655",
"987665555555444333333333 333333344444555566666555",
"677888877665554443333333 333333344445667777765543",
"556666777766655444333322 223333444455667777665432",
"667788887765554443333322 223333444455666666654432",
"566777777776655544333333 333333444455566666654431",
"667777777766555444333333 333333444555666667654432",
"887655555554444333322222 222233344445566666654433",
"988765555555544433333333 333333344445555566666655",
"987655566666554443332222 222233344455666666654433",
"778888777766655443332211 112233444556677776655432",
"876666667766655443322111 111223344556666776555433",
"556666666655554433221001 100122334455666666654431"];
const heatZ=[-3,-2.1,-1.4,-1,-.5,0,.5,1,1.8,3];

// ---------- HELPERS ----------
const svg=d3.select('#c');
svg.append('rect').attr('width',1928).attr('height',2542).attr('fill','#fff');
const defs=svg.append('defs');
function T(p,x,y,s,o={}){const t=p.append('text').attr('x',x).attr('y',y).attr('font-size',o.size||14).attr('fill',o.fill||'#111').text(s);
 if(o.anchor)t.attr('text-anchor',o.anchor);if(o.weight)t.attr('font-weight',o.weight);if(o.style)t.attr('font-style',o.style);
 if(o.mid)t.attr('dy','.35em');if(o.rotate!==undefined)t.attr('transform',`rotate(${o.rotate},${x},${y})`);return t;}
function grad(id,colors,vertical){const g=defs.append('linearGradient').attr('id',id).attr('x1',0).attr('y1',0).attr('x2',vertical?0:1).attr('y2',vertical?1:0);
 colors.forEach((c,i)=>g.append('stop').attr('offset',i/(colors.length-1)).attr('stop-color',c));}
const panelLetters=[['a',3,47,50],['b',1303,47,52],['c',3,491,56],['d',591,489,56],['e',3,1025,56],['f',827,1026,56],['g',3,1862,56],['h',925,1802,56]];
panelLetters.forEach(l=>T(svg,l[1],l[2],l[0],{size:l[3],fill:'#111'}));

// ---------- PANEL A ----------
const spectral=d3.scaleLinear().domain([0,30,60,90,120,150,180,210,240,270,300]).range(['#64519B','#56719F','#75AAAE','#A8D5AA','#D9E8A8','#F8F3C5','#F0C588','#E39266','#CD5B55','#B03A4A','#852A45']);
[[normalCounts,'Normal',109,366,71,337,238],[adjacentCounts,'Adjacent',497,752,69,335,627],[tumorCounts,'Tumor',885,1144,71,339,1001]].forEach(([m,title,x0,x1,y0,y1,tx])=>{
 const g=svg.append('g');const xs=d3.scaleBand().domain(cellTypes).range([x0,x1]),ys=d3.scaleBand().domain(cellTypes).range([y0,y1]);
 T(g,tx,25,title,{size:27,anchor:'middle'});
 m.forEach((row,i)=>row.forEach((v,j)=>g.append('rect').attr('x',xs(cellTypes[j])).attr('y',ys(cellTypes[i])).attr('width',xs.bandwidth()).attr('height',ys.bandwidth()).attr('fill',spectral(v)).attr('stroke','#bcbcbc').attr('stroke-width',2.5)));
 cellTypes.forEach(c=>{T(g,x1+3,ys(c)+ys.bandwidth()/2,c,{size:14,mid:1});
  const cx=xs(c)+xs.bandwidth()/2;T(g,cx,y1+4,c,{size:14,mid:1,rotate:90});});
});
grad('gA',d3.range(0,301,30).reverse().map(v=>spectral(v)),true);
svg.append('rect').attr('x',76).attr('y',136).attr('width',13).attr('height',194).attr('fill','url(#gA)');
T(svg,59,147,'300',{size:18,anchor:'end'});T(svg,59,333,'0',{size:18,anchor:'end'});
T(svg,33,241,'Interaction',{size:25,anchor:'middle',rotate:-90});T(svg,66,237,'count',{size:25,anchor:'middle',rotate:-90});

// ---------- PANEL B ----------
const chord=svg.append('g').attr('transform','translate(1605,319)');
const typeColor={Tumor:'#F9953A',Adjacent:'#5C95BF',Normal:'#8E62C6'};
const rad=d=>d*Math.PI/180;
const sectorStart={Myeloid:318.7,Plasma:53,Endothelium:90,Fibroblast:176,Lymphocyte:276.6};
const degPerUnit=d3.scaleLinear().domain([0,1]).range([0,.0805]);
const groupLayout={};const cursor={...sectorStart};
chordGroups.forEach(([sec,type,max])=>{const a0=cursor[sec],a1=a0+degPerUnit(max);cursor[sec]=a1+.45;groupLayout[sec+'|'+type]={a0,a1,max,sec,type};});
const arc=d3.arc();
const bands=[['Myeloid',-41.5,43,'#76408B',true],['Plasma',52,80,'#729B5A',true],['Endothelium',90,165.7,'#FE8888',false],['Fibroblast',176,267,'#85ABC9',false],['Lymphocyte',276.8,311,'#FFB26E',true]];
bands.forEach(([name,a0,a1,col,cw],i)=>{
 chord.append('path').attr('d',arc({innerRadius:270,outerRadius:300,startAngle:rad(a0),endAngle:rad(a1)})).attr('fill',col);
 const r=cw?276:294;const p=d3.path();if(cw)p.arc(0,0,r,rad(a0-90),rad(a1-90),false);else p.arc(0,0,r,rad(a1-90),rad(a0-90),true);
 defs.append('path').attr('id','bandPath'+i).attr('d',p.toString());
 const t=chord.append('text').attr('font-size',26).attr('fill','#fff').attr('text-anchor','middle');
 t.append('textPath').attr('href','#bandPath'+i).attr('startOffset','50%').text(name);
});
// ribbons
const ends={};
Object.entries(chordOrder).forEach(([key,ids])=>{const g=groupLayout[key];const pad=.2;const tot=d3.sum(ids,id=>chordLinks[id][1]);
 const s=d3.scaleLinear().domain([0,tot]).range([g.a0+pad,g.a1-pad]);let c=0;
 ids.forEach(id=>{const v=chordLinks[id][1];const a0=s(c),a1=s(c+v),mid=(a0+a1)/2,half=(chordLinks[id][0]==='Normal'?.15:.5)*(a1-a0);
  (ends[id]=ends[id]||[]).push({startAngle:rad(mid-half),endAngle:rad(mid+half),radius:212});c+=v;});});
const ribbon=d3.ribbon();
const ribbonStyle={Other:['#a2a2a2',.74],Tumor:['#F9953A',1],Adjacent:['#5C95BF',1],Normal:['#6a5aa8',.75]};
['Other','Tumor','Adjacent','Normal'].forEach(kind=>{
 Object.entries(chordLinks).filter(([,v])=>v[0]===kind).forEach(([id])=>{const e=ends[id];
  chord.append('path').attr('d',ribbon({source:e[0],target:e[1]})).attr('fill',ribbonStyle[kind][0]).attr('fill-opacity',ribbonStyle[kind][1]);});});
// rings + axes
Object.values(groupLayout).forEach(g=>{
 chord.append('path').attr('d',arc({innerRadius:220,outerRadius:242,startAngle:rad(g.a0),endAngle:rad(g.a1)})).attr('fill',typeColor[g.type]);
 const sc=d3.scaleLinear().domain([0,g.max]).range([g.a0,g.a1]);
 chord.append('path').attr('d',arc({innerRadius:242.2,outerRadius:243.8,startAngle:rad(g.a0),endAngle:rad(g.a1)})).attr('fill','#000');
 d3.range(0,g.max+1,10).forEach(v=>{const a=rad(sc(v));const major=v%100===0;const r1=major?252:247;
  chord.append('line').attr('x1',243*Math.sin(a)).attr('y1',-243*Math.cos(a)).attr('x2',r1*Math.sin(a)).attr('y2',-r1*Math.cos(a)).attr('stroke','#000').attr('stroke-width',major?2:1.2);
  if(major){const d=sc(v)%360,r=261,x=r*Math.sin(a),y=-r*Math.cos(a);
   T(chord,x,y,v,{size:15,anchor:'middle',mid:1,rotate:(d<90||d>270)?d:d-180});}
 });
});
[['Tumor',1337,708,63,28,1413,'#F9953A'],['Adjacent',1510,711,62,27,1586,'#5C95BF'],['Normal',1710,708,63,26,1787,'#8E62C6']].forEach(([n,x,y,w,h,tx,c])=>{
 svg.append('rect').attr('x',x).attr('y',y).attr('width',w).attr('height',h).attr('fill',c);
 T(svg,tx,731,n,{size:26,weight:'bold'});});

// ---------- PANEL C ----------
const violinLayout=[
{ax:128,end:319,b:574,t:490,z:570,top:495,caf:180,nf:266,tx:222,ty:474,sy:503,lx:90,ly:532},
{ax:388,end:578,b:574,t:490,z:570,top:495,caf:440,nf:525,tx:483,ty:474,sy:499,lx:349,ly:532},
{ax:128,end:319,b:747,t:664,z:744,top:679,caf:180,nf:266,tx:224,ty:647,sy:673,lx:90,ly:707},
{ax:388,end:578,b:748,t:664,z:744,top:681,caf:440,nf:525,tx:484,ty:647,sy:673,lx:349,ly:707},
{ax:128,end:319,b:919,t:836,z:916,top:839,caf:180,nf:266,tx:223,ty:818,sy:846,lx:90,ly:881},
{ax:386,end:576,b:926,t:843,z:923,top:850,caf:438,nf:523,tx:481,ty:826,sy:852,lx:347,ly:884}];
violinLayout.forEach((L,i)=>{
 const g=svg.append('g');const y0=d3.scaleLinear().domain([0,violinTicks[i]]).range([L.z,L.top]);
 const y=d3.scaleLinear().domain([y0.invert(L.b),y0.invert(L.t)]).range([L.b,L.t]);
 const w=d3.scaleLinear().domain([0,1]).range([0,40]);
 [[L.caf,cafDensity[i]],[L.nf,nfDensity[i]]].forEach(([cx,prof])=>{
  const area=d3.area().curve(d3.curveMonotoneY).y(d=>y0(d[0])).x0(d=>cx-w(d[1])).x1(d=>cx+w(d[1]));
  g.append('path').attr('d',area(prof)).attr('fill','#DC4E3A').attr('stroke','#2f2f2f').attr('stroke-width',3.2).attr('stroke-linejoin','round');});
 const ay=g.append('g').attr('transform',`translate(${L.ax},0)`).call(d3.axisLeft(y).tickValues(d3.range(0,violinTicks[i]+1)).tickSize(5).tickPadding(3).tickFormat(d3.format('d')));
 ay.selectAll('path,line').attr('stroke','#000').attr('stroke-width',3);ay.selectAll('text').attr('font-size',20).attr('fill','#111').attr('font-family',null);
 const xs=d3.scaleOrdinal().domain(['CAF','NF']).range([L.caf,L.nf]);
 const ax=g.append('g').attr('transform',`translate(0,${L.b})`).call(d3.axisBottom(d3.scalePoint().domain(['CAF','NF']).range([L.caf,L.nf])).tickSize(5).tickPadding(6).tickSizeOuter(0));
 ax.select('.domain').remove();ax.selectAll('line').attr('stroke','#000').attr('stroke-width',3);ax.selectAll('text').attr('font-size',19).attr('fill','#111').attr('font-family',null);
 g.append('line').attr('x1',L.ax-1).attr('x2',L.end).attr('y1',L.b).attr('y2',L.b).attr('stroke','#000').attr('stroke-width',3);
 T(g,L.tx,L.ty,violinGenes[i],{size:25,anchor:'middle',style:'italic'});
 T(g,xs('CAF')-1,L.sy,'***',{size:24,anchor:'middle'});
 T(g,L.lx,L.ly,'Expression Level',{size:23,anchor:'middle',mid:1,rotate:-90});
});

// ---------- PANEL D ----------
const dg=svg.append('g');
const dx=d3.scalePoint().domain(dotGenes).range([746.7,1316.4]),dy=d3.scalePoint().domain(clusterNames).range([512,720]);
const dr=d3.scaleLinear().domain([0,100]).range([1.5,11.4]);
const dc=d3.scaleLinear().domain([-1,2]).range(['#e8f1e8','#4f8455']);
dg.append('rect').attr('x',737.5).attr('y',494).attr('width',587).attr('height',243).attr('fill','#fff').attr('stroke','#555').attr('stroke-width',1.6);
clusterNames.forEach((c,i)=>{
 dg.append('rect').attr('x',720.5).attr('y',dy(c)-14.8).attr('width',16.5).attr('height',29.6).attr('fill',clusterCellColors[i]).attr('stroke','#999').attr('stroke-width',2.6);
 dg.append('line').attr('x1',714).attr('x2',718).attr('y1',dy(c)).attr('y2',dy(c)).attr('stroke','#333');
 T(dg,711,dy(c),c,{size:27,anchor:'end',mid:1});
 dotGenes.forEach((g,j)=>dg.append('circle').attr('cx',dx(g)).attr('cy',dy(c)).attr('r',dr(dotPct[i][j])).attr('fill',dc(dotFold[i][j])));
});
dotGenes.forEach(g=>{
 dg.append('line').attr('x1',dx(g)).attr('x2',dx(g)).attr('y1',737).attr('y2',742).attr('stroke','#333');
 T(dg,dx(g)+4.5,748,g,{size:12.5,anchor:'end',rotate:-43,weight:dotBold.includes(g)?'bold':null});
});
grad('gCell',['#1f3d22','#2d7535','#4a9155','#5fb582','#7ed0ad','#bcebdd','#e6f7f9']);
grad('gCellV',['#1f3d22','#2d7535','#4a9155','#5fb582','#7ed0ad','#bcebdd','#e6f7f9'],true);
dg.append('rect').attr('x',720.5).attr('y',461.5).attr('width',16.5).attr('height',25).attr('fill','url(#gCellV)').attr('stroke','#999').attr('stroke-width',2.6);
T(dg,709,456,'25000',{size:16,anchor:'end',mid:1});T(dg,709,483,'5000',{size:16,anchor:'end',mid:1});T(dg,743,477,'cell number',{size:18,mid:1});
grad('gFold',[dc(2.2),dc(1),dc(0),dc(-1),'#ffffff']);
dg.append('rect').attr('x',805).attr('y',863).attr('width',155).attr('height',27).attr('fill','url(#gFold)');
[[823,'2'],[866,'1'],[909,'0'],[950,'−1']].forEach(l=>T(dg,l[0],851,l[1],{size:15.5,anchor:'middle',mid:1}));
T(dg,885,917,'Expression Fold Change',{size:19,anchor:'middle',mid:1});
[[1105,25],[1137.5,50],[1170,75]].forEach(l=>{dg.append('circle').attr('cx',l[0]).attr('cy',880).attr('r',.115*l[1]).attr('fill','#050a05');T(dg,l[0]+1,850,l[1],{size:15.5,anchor:'middle',mid:1});});
T(dg,1150,913,'Percent Expressed',{size:19,anchor:'middle',mid:1});

// ---------- PANEL E ----------
const eg=svg.append('g');
const clusterOrderE=['myo','infla','adi','nf5','nf3','endmt','pn','ap'];
const ex=d3.scaleBand().domain(clusterOrderE).range([106,654.5]);
const ey=d3.scaleBand().domain(tfGenes).range([1185,1705]);
const tfColor=d3.scaleLinear().domain([0,1,2,3,4,5,6,7,8,9]).range(['#4A6EAE','#6F9BC6','#9CC5DC','#B6DAE7','#D5EAF2','#F4F3CC','#F8C98A','#E88A5E','#C94A36','#A0201E']);
const inner=d3.scaleBand().domain(d3.range(20)).range([0,ex.bandwidth()]);
tfActivity.forEach((row,i)=>row.forEach((s,k)=>{
 const chars=[...s];const mode=d3.greatest(d3.rollups(chars,v=>v.length,d=>d),e=>e[1])[0];
 eg.append('rect').attr('x',ex(clusterOrderE[k])).attr('y',ey(tfGenes[i])).attr('width',ex.bandwidth()+.4).attr('height',ey.bandwidth()+.3).attr('fill',tfColor(+mode));
 chars.forEach((ch,j)=>{if(ch!==mode)eg.append('rect').attr('x',ex(clusterOrderE[k])+inner(j)).attr('y',ey(tfGenes[i])).attr('width',inner.bandwidth()*.6).attr('height',ey.bandwidth()+.3).attr('fill',tfColor(+ch));});
}));
tfGenes.forEach((g,i)=>{const t=T(eg,662,ey(g)+ey.bandwidth()/2+3.5,'',{size:23.8,mid:1});t.append('tspan').attr('font-style','italic').text(g);t.append('tspan').text(tfSuffix[i]);});
const annotE=['#69BDD0','#F59B85','#8590AF','#3DA58C','#465080','#DD4E3B','#A0DCC8','#C82C1C'];
clusterOrderE.forEach((c,i)=>{
 eg.append('rect').attr('x',ex(c)).attr('y',1122).attr('width',ex.bandwidth()).attr('height',29).attr('fill',clusterCellColors[i]).attr('stroke','#999').attr('stroke-width',2);
 eg.append('rect').attr('x',ex(c)).attr('y',1151).attr('width',ex.bandwidth()).attr('height',28).attr('fill',annotE[i]);});
T(eg,664,1138,'cell number',{size:23,weight:'bold',mid:1});T(eg,664,1168,'celltype',{size:23,weight:'bold',mid:1});
[[126,1112,'CAF','myo','(C1)',72,116],[199,1112,'CAF','infla','(c2)',72,113],[272,1110,'CAF','adi','(c4)',72,112],[332,1115,'NF','','(c5)',0,68],[399,1110,'NF','','(c3)',0,64],[462,1112,'CAF','EndMT','(c6)',72,140],[541,1110,'CAF','PN','(c7)',72,100],[608,1108,'CAF','ap','(c8)',72,96]].forEach(([x,y,a,b,c,sx,tx])=>{
 const g=eg.append('g').attr('transform',`translate(${x},${y}) rotate(-47)`);
 T(g,0,0,a,{size:33});if(b)T(g,sx,9,b,{size:19});T(g,tx,2,c,{size:22});});
const tfTree={h:1,c:[{h:21,c:[{r:0},{h:30,c:[{r:1},{h:44,c:[{r:2},{r:3}]}]}]},{h:6,c:[{h:7,c:[{h:92,c:[{r:4},{r:5}]},{h:23,c:[{r:6},{h:30,c:[{r:7},{h:53,c:[{r:8},{h:64,c:[{r:9},{r:10}]}]}]}]}]},{h:11,c:[{h:36,c:[{r:11},{r:12}]},{h:35,c:[{r:13},{h:58,c:[{r:14},{r:15}]}]}]}]}]};
const tree=d3.hierarchy(tfTree,d=>d.c);
tree.eachAfter(n=>{if(n.children){n.py=d3.mean(n.children,c=>c.py);n.px=n.data.h;}else{n.py=ey(tfGenes[n.data.r])+ey.bandwidth()/2;n.px=106;}});
tree.each(n=>{if(n.children){const ys=n.children.map(c=>c.py);
 eg.append('line').attr('x1',n.px).attr('x2',n.px).attr('y1',d3.min(ys)).attr('y2',d3.max(ys)).attr('stroke','#111').attr('stroke-width',2.4);
 n.children.forEach(c=>eg.append('line').attr('x1',n.px).attr('x2',c.px).attr('y1',c.py).attr('y2',c.py).attr('stroke','#111').attr('stroke-width',2.4));}});
grad('gZ',['#A51F1F','#D9442E','#F88C55','#F9D28C','#F8F5C4','#E6F3F3','#A9CFE0','#6A97C2','#453F96']);
svg.append('rect').attr('x',128).attr('y',1769).attr('width',347).attr('height',24).attr('fill','url(#gZ)');
T(svg,300,1749,'Z-SCORE',{size:24.5,anchor:'middle',mid:1});T(svg,128,1810,'1',{size:24,anchor:'middle',mid:1});T(svg,477,1810,'-1',{size:24,anchor:'end',mid:1});
svg.append('rect').attr('x',557).attr('y',1769).attr('width',178).attr('height',24).attr('fill','url(#gCell)');
T(svg,647,1753,'cell number',{size:29,anchor:'middle',mid:1});T(svg,560,1809,'25000',{size:23,anchor:'middle',mid:1});T(svg,726,1809,'5000',{size:23,anchor:'middle',mid:1});

// ---------- PANEL F ----------
const fg=svg.append('g');
const cellColor={myo:'#DD4E3B',infla:'#69BDD0',adi:'#3DA58C',nf:'#465080'};
const xF=d3.scaleLinear().domain([0,600]).range([875,1475]),yF=d3.scaleLinear().domain([0,500]).range([1090,1590]);
[[trajAdi,'adi'],[trajNF,'nf'],[trajInfla,'infla'],[trajMyo,'myo']].forEach(([pts,k])=>pts.forEach(p=>fg.append('circle').attr('cx',xF(p[0])).attr('cy',yF(p[1])).attr('r',4.8).attr('fill',cellColor[k])));
[[stateOne,'#F9953A'],[stateTwo,'#378A45'],[stateThree,'#464A92']].forEach(([pts,c])=>pts.forEach(p=>fg.append('circle').attr('cx',xF(p[0])).attr('cy',yF(p[1])).attr('r',4.6).attr('fill',c)));
function capSub(p,x,y,a,b,sa,sb,bx,by){T(p,x,y,a,{size:sa});if(b)T(p,bx,by,b,{size:sb});}
capSub(fg,1331,1281,'CAF','state 1',38,23,1409,1296);capSub(fg,1150,1437,'CAF','state 2',38,23,1228,1451);capSub(fg,1374,1517,'CAF','state 3',38,23,1451,1531);
[[971,'myo',992,1044.6],[1101,'infla',1118,1170.5],[1221,'adi',1234,1285.6]].forEach(([cx,s,x,sx])=>{
 const k=s;fg.append('circle').attr('cx',cx).attr('cy',1013.6).attr('r',8).attr('fill',cellColor[k]).attr('opacity',.9);capSub(fg,x,1022.5,'CAF',s,26.5,16,sx,1031);});
fg.append('circle').attr('cx',1334.5).attr('cy',1013.6).attr('r',8).attr('fill',cellColor.nf);T(fg,1348,1022.5,'NF',{size:26.5});
[[1644,961,'myo',1686,1737,987,996],[1777,961,'infla',1823,1874,987,996],[1644,1028,'adi',1686,1737,1056,1065]].forEach(([x,y,k,tx,sx,ty,sy])=>{
 fg.append('rect').attr('x',x).attr('y',y).attr('width',33).attr('height',37).attr('fill',cellColor[k]);capSub(fg,tx,ty,'CAF',k,27,16,sx,sy);});
fg.append('rect').attr('x',1777).attr('y',1028).attr('width',33).attr('height',37).attr('fill',cellColor.nf);T(fg,1825,1056,'NF',{size:27});
const propKeys=['NF','adi','infla','myo'];
const propRows=stateLabels.map((s,i)=>({state:s,NF:propNF[i],adi:propAdi[i],infla:propInfla[i],myo:propMyo[i]}));
const stackF=d3.stack().keys(propKeys)(propRows);
const yP=d3.scaleLinear().domain([0,100]).range([1528,1105]);
const barCenter=d3.scaleOrdinal().domain(stateLabels).range([1671.5,1725.5,1777]),barWidth=d3.scaleOrdinal().domain(stateLabels).range([49,41,48]);
stackF.forEach(layer=>layer.forEach(d=>fg.append('rect').attr('x',barCenter(d.data.state)-barWidth(d.data.state)/2).attr('width',barWidth(d.data.state)).attr('y',yP(d[1])).attr('height',yP(d[0])-yP(d[1])).attr('fill',cellColor[layer.key.toLowerCase()])));
[0,25,50,75,100].forEach(v=>{fg.append('circle').attr('cx',1812).attr('cy',yP(v)).attr('r',1.5).attr('fill','#222');T(fg,1826,yP(v)-4,v+'%',{size:14,anchor:'middle',mid:1,rotate:-90});});
T(fg,1845,1317,'Proportion (%)',{size:17,anchor:'middle',mid:1,rotate:-90});
stateLabels.forEach((s,i)=>{fg.append('circle').attr('cx',[1671.5,1722,1777][i]).attr('cy',1535).attr('r',1.5).attr('fill','#222');
 const g=fg.append('g').attr('transform',`translate(${[1609,1660,1721][i]},${1614}) rotate(-50)`);T(g,0,0,'CAF',{size:25});T(g,54,-3,s,{size:14,style:'italic'});});

// ---------- PANEL G ----------
const gg=svg.append('g');
const scoreCol=d3.scaleLinear().domain([0,1,2,3,4,5,6,7,8,9]).range(['#5E4FA2','#4575A8','#5FA8AF','#8ED1A4','#D0E9A0','#F8F1B0','#F8CC85','#EE9560','#D25050','#8E1B3E']);
const gAu=d3.scaleLinear().domain([238,239]).range([312,313.0887]),gAv=d3.scaleLinear().domain([189,190]).range([0,-.0633]);
const gBu=d3.scaleLinear().domain([238,239]).range([2136,2135.8343]),gBv=d3.scaleLinear().domain([189,190]).range([0,.9725]);
const allTraj=[...trajAdi,...trajNF,...trajInfla,...trajMyo].slice().sort((a,b)=>d3.ascending(a[2],b[2]));
allTraj.forEach(p=>gg.append('circle').attr('cx',gAu(p[0])+gAv(p[1])).attr('cy',gBu(p[0])+gBv(p[1])).attr('r',4.4).attr('fill',scoreCol(p[2])));
T(gg,384,1871,'EMT Score',{size:39,anchor:'middle',weight:'bold'});
grad('gScore',d3.range(0,10).map(d=>scoreCol(d)));
gg.append('rect').attr('x',177).attr('y',2465).attr('width',251.6).attr('height',36.6).attr('fill','url(#gScore)').attr('stroke','#cfc6e0');
T(gg,184,2521,'2.5',{size:26,anchor:'middle',mid:1});T(gg,428.6,2521,'3.5',{size:26,anchor:'middle',mid:1});T(gg,290,2527,'Score',{size:26,anchor:'middle',mid:1});
const yB=d3.scaleLinear().domain([2.5,3.5]).range([2333,2019]);
const xB=d3.scalePoint().domain(stateLabels).range([738.5,933.7]);
const stripColor=['#F9953A','#378A45','#464A92'];
[stripOne,stripTwo,stripThree].forEach((rows,i)=>{let k=0;const cx=xB(stateLabels[i]);
 rows.forEach(([mask,n])=>{for(let q=0;q<n;q++){const v=stripTop[i]-k*.015;[...mask].forEach((m,j)=>{if(m==='#')gg.append('circle').attr('cx',cx-23+j*3+(k%2?1.5:0)).attr('cy',yB(v)).attr('r',2.6).attr('fill',stripColor[i]);});k++;}});});
stateLabels.forEach((s,i)=>{const cx=xB(s),hw=37,st='#2b2b2b';
 gg.append('line').attr('x1',cx).attr('x2',cx).attr('y1',yB(boxHigh[i])).attr('y2',yB(boxQ3[i])).attr('stroke',st).attr('stroke-width',3.5);
 gg.append('line').attr('x1',cx).attr('x2',cx).attr('y1',yB(boxQ1[i])).attr('y2',yB(boxLow[i])).attr('stroke',st).attr('stroke-width',3.5);
 gg.append('rect').attr('x',cx-hw).attr('width',hw*2).attr('y',yB(boxQ3[i])).attr('height',yB(boxQ1[i])-yB(boxQ3[i])).attr('fill','none').attr('stroke',st).attr('stroke-width',3.5);
 gg.append('line').attr('x1',cx-hw).attr('x2',cx+hw).attr('y1',yB(boxMedian[i])).attr('y2',yB(boxMedian[i])).attr('stroke',st).attr('stroke-width',7);
 gg.append('line').attr('x1',cx).attr('x2',cx).attr('y1',2362).attr('y2',2372).attr('stroke',st).attr('stroke-width',3);
 const g=gg.append('g').attr('transform',`translate(${[743,845,937.5][i]},2388) rotate(-58)`);
 T(g,-54,0,'CAF',{size:30,anchor:'end'});T(g,0,-2,s,{size:18,anchor:'end',style:'italic'});
});
const aB=gg.append('g').attr('transform','translate(680,0)').call(d3.axisLeft(yB.copy().domain([yB.invert(2362),yB.invert(2017)]).range([2362,2017])).tickValues([2.5,2.75,3,3.25,3.5]).tickFormat(d3.format('.2f')).tickSize(8).tickPadding(5).tickSizeOuter(0));
aB.selectAll('path,line').attr('stroke','#2b2b2b').attr('stroke-width',3);aB.selectAll('text').attr('font-size',21).attr('fill','#111').attr('font-family',null);
gg.append('line').attr('x1',679).attr('x2',993).attr('y1',2362).attr('y2',2362).attr('stroke','#2b2b2b').attr('stroke-width',3);
T(gg,834,1911,'EMT scores',{size:25,anchor:'middle',mid:1});
gg.append('line').attr('x1',837).attr('x2',929).attr('y1',1976.5).attr('y2',1976.5).attr('stroke','#222').attr('stroke-width',3);
T(gg,886,1962,'***',{size:30,anchor:'middle'});T(gg,935.6,2014,'***',{size:30,anchor:'middle'});T(gg,838.6,2073,'***',{size:30,anchor:'middle'});

// ---------- PANEL H ----------
const hg=svg.append('g');
const heatCol=d3.scaleLinear().domain([-3,-2.1,-1.4,-1,-.5,0,.5,1,1.8,2.3,3]).range(['#2B3990','#3566B0','#5DB5D9','#88DCD0','#8DDDB0','#9ADF84','#CDE65A','#F2E43A','#F59A25','#DE3E1E','#B62A1E']);
const xHL=d3.scaleBand().domain(d3.range(24)).range([1195,1493]),xHR=d3.scaleBand().domain(d3.range(24)).range([1500.6,1791.7]);
defs.append('filter').attr('id','hBlur').attr('filterUnits','userSpaceOnUse').attr('x',1100).attr('y',1700).attr('width',800).attr('height',842).append('feGaussianBlur').attr('stdDeviation','6 .6');
[[hState1,1795,1986,'#DE85CE'],[hState2,1993,2276,'#80C800'],[hState3,2284,2514.6,'#FF9A98']].forEach(([rows,y0,y1,side],bi)=>{
 const yH=d3.scaleBand().domain(d3.range(rows.length)).range([y0,y1]);
 hg.append('rect').attr('x',1179).attr('y',y0).attr('width',11.5).attr('height',y1-y0).attr('fill',side);
 [[xHL,0,1195,1493],[xHR,1,1500.6,1791.7]].forEach(([xs,side2,xa,xb])=>{
  const id=`hc${bi}_${side2}`;defs.append('clipPath').attr('id',id).append('rect').attr('x',xa).attr('y',y0).attr('width',xb-xa).attr('height',y1-y0);
  const outer=hg.append('g').attr('clip-path',`url(#${id})`);const blk=outer.append('g').attr('filter','url(#hBlur)');
  rows.forEach((s,r)=>{const cells=s.split(' ')[side2];[...cells].forEach((ch,c)=>{
    const pad=24;let x=xs(c),w=xs.bandwidth()+.5;if(c===0){x-=pad;w+=pad;}if(c===23)w+=pad;
    let y=yH(r),h=yH.bandwidth()+.3;if(r===0){y-=6;h+=6;}if(r===rows.length-1)h+=6;
    blk.append('rect').attr('x',x).attr('y',y).attr('width',w).attr('height',h).attr('fill',heatCol(heatZ[+ch]));});});
 });
});
[[1195,1376,'#EE5C6C'],[1376,1493,'#979797'],[1500.6,1612,'#979797'],[1612,1791.7,'#7F8FC4']].forEach(b=>hg.append('rect').attr('x',b[0]).attr('y',1775.6).attr('width',b[1]-b[0]).attr('height',18.4).attr('fill',b[2]));
grad('gHeat',[3,2.3,1.8,1,.5,0,-.5,-1,-1.4,-2.1,-3].map(z=>heatCol(z)),true);
hg.append('rect').attr('x',1800.6).attr('y',1795).attr('width',19).attr('height',275).attr('fill','url(#gHeat)');
T(hg,1801,1784,'CellType',{size:16,weight:'bold',mid:1});
[[3,1801.5],[2,1845.5],[1,1889.5],[0,1933.5],[-1,1978],[-2,2022],[-3,2066]].forEach(l=>T(hg,1830,l[1],l[0]<0?'−'+(-l[0]):l[0],{size:12,anchor:'middle',mid:1}));
T(hg,1890.5,1929,'Normalized expression',{size:25,anchor:'middle',mid:1,rotate:90});T(hg,1859,1929,'Z-score',{size:25,anchor:'middle',mid:1,rotate:90});
T(hg,1806,2102,'CellType',{size:16,weight:'bold',mid:1});
[[2112,'#979797'],[2127.5,'#7F8FC4'],[2143,'#EE5C6C']].forEach(s=>hg.append('rect').attr('x',1801).attr('y',s[0]).attr('width',16).attr('height',15.5).attr('fill',s[1]));
T(hg,1824,2125,'NF',{size:17});T(hg,1824,2140,'CAF',{size:17});T(hg,1824,2155,'CAF',{size:17});T(hg,1857,2146,'myo',{size:8});T(hg,1857,2161,'infla',{size:8});T(hg,1875,2155,'/CAF',{size:17});T(hg,1914,2161,'adi',{size:8});
T(hg,1806,2212.6,'State',{size:16,weight:'bold',mid:1});
[[2226,'#DE85CE',2236.5,'state1'],[2243,'#80C800',2253,'state2'],[2258.5,'#FF9A98',2270,'state3']].forEach(s=>{hg.append('rect').attr('x',1801).attr('y',s[0]).attr('width',16).attr('height',16).attr('fill',s[1]);T(hg,1824,s[2],'CAF',{size:17});T(hg,1856,s[2]+6,s[3],{size:9});});
const geneCallouts=[['PDGFRB',1140,2034.5,[[1144,2029],[1170.4,2029],[1170.4,2086],[1177.5,2086]]],['NOTCH3',1140,2103,[[1144,2099],[1161,2099],[1161,2130],[1177.5,2130]]],['MYLK',1138,2170,[[1144,2167.6],[1151,2167.6],[1151,2220],[1177.5,2220]]],['INS',1139,2238,[[1147,2238.5],[1176,2238.5]]],['ENG',1140,2310,[[1146,2311.6],[1176,2311.6]]],['FAP',1140,2364,[[1146,2363],[1176,2363]]],['IGF2',1140,2413.6,[[1144,2415],[1160,2415],[1160,2447],[1176,2447]]],['PDGFRA',1140,2494,[[1147,2492],[1176,2492]]]];
geneCallouts.forEach(([g,x,y,pts])=>{T(hg,x,y,g,{size:26,anchor:'end',style:'italic',fill:'#E0301E',mid:1});
 hg.append('path').attr('d',d3.line()(pts)).attr('fill','none').attr('stroke','#E0301E').attr('stroke-width',2.4);});
[[1491,1212,1198],[1502,1780,1794]].forEach(([a,b,tip])=>{hg.append('line').attr('x1',a).attr('x2',b).attr('y1',2534).attr('y2',2534).attr('stroke','#E8601C').attr('stroke-width',2);
 hg.append('path').attr('d',d3.line()([[tip,2534],[b,2527],[b,2541]])+'Z').attr('fill','#E8601C');});
</script></body></html>
